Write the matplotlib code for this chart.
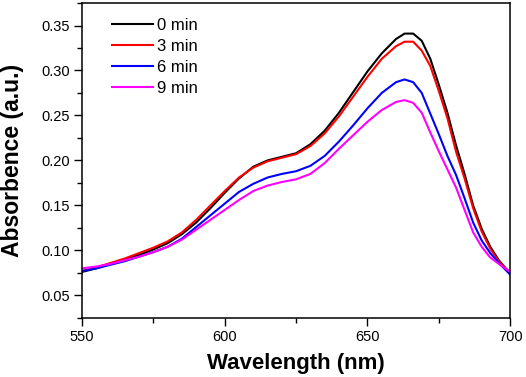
"""
UV-Vis absorbance spectra at different irradiation times (0-9 min)
"""

import matplotlib
matplotlib.use("Agg")
import matplotlib.pyplot as plt
from matplotlib.ticker import MultipleLocator, FormatStrFormatter

# ── data ─────────────────────────────────────────────────────────────────────
wavelength = [550, 555, 560, 565, 570, 575, 580, 585, 590, 595,
              600, 605, 610, 615, 620, 625, 630, 635, 640, 645,
              650, 655, 660, 663, 666, 669, 672, 675, 678, 681,
              684, 687, 690, 693, 696, 700]

abs_0min = [0.076, 0.080, 0.085, 0.090, 0.095, 0.101, 0.108, 0.118, 0.131, 0.147,
            0.164, 0.180, 0.193, 0.200, 0.204, 0.208, 0.218, 0.233, 0.253, 0.276,
            0.299, 0.319, 0.335, 0.341, 0.341, 0.333, 0.313, 0.284, 0.253, 0.217,
            0.185, 0.150, 0.124, 0.104, 0.089, 0.074]

abs_3min = [0.077, 0.081, 0.086, 0.091, 0.097, 0.103, 0.110, 0.120, 0.134, 0.150,
            0.166, 0.181, 0.192, 0.199, 0.203, 0.207, 0.216, 0.230, 0.249, 0.271,
            0.293, 0.313, 0.327, 0.332, 0.332, 0.322, 0.305, 0.277, 0.247, 0.210,
            0.180, 0.147, 0.121, 0.102, 0.088, 0.075]

abs_6min = [0.077, 0.080, 0.084, 0.088, 0.093, 0.098, 0.104, 0.113, 0.126, 0.139,
            0.152, 0.165, 0.174, 0.181, 0.185, 0.188, 0.194, 0.205, 0.221, 0.239,
            0.258, 0.275, 0.287, 0.290, 0.287, 0.275, 0.252, 0.229, 0.205, 0.184,
            0.158, 0.131, 0.111, 0.097, 0.086, 0.073]

abs_9min = [0.080, 0.082, 0.085, 0.089, 0.093, 0.098, 0.104, 0.112, 0.123, 0.134,
            0.145, 0.156, 0.166, 0.172, 0.176, 0.179, 0.185, 0.197, 0.213, 0.228,
            0.243, 0.256, 0.265, 0.267, 0.264, 0.253, 0.231, 0.210, 0.190, 0.170,
            0.145, 0.120, 0.104, 0.092, 0.085, 0.076]

labels = ["0 min", "3 min", "6 min", "9 min"]
colors = ["#000000", "#ff0000", "#0000ff", "#ff00ff"]

plt.rcParams["font.family"] = ["Liberation Sans", "DejaVu Sans"]

fig = plt.figure(figsize=(5.26, 3.77), dpi=100)
ax = fig.add_axes([0.156, 0.157, 0.814, 0.835])

for series, lab, col in zip([abs_0min, abs_3min, abs_6min, abs_9min], labels, colors):
    ax.plot(wavelength, series, color=col, linewidth=1.5, label=lab)

ax.set_xlim(550, 700)
ax.set_ylim(0.025, 0.375)
ax.xaxis.set_major_locator(MultipleLocator(50))
ax.xaxis.set_minor_locator(MultipleLocator(25))
ax.yaxis.set_major_locator(MultipleLocator(0.05))
ax.yaxis.set_minor_locator(MultipleLocator(0.025))
ax.yaxis.set_major_formatter(FormatStrFormatter("%.2f"))

# 바깥쪽 눈금, 위/오른쪽 눈금 없음
ax.tick_params(which="both", direction="out", top=False, right=False, labelsize=10.5)
ax.tick_params(which="major", length=5.5, width=1)
ax.tick_params(which="minor", length=3.5, width=1)
for sp in ax.spines.values():
    sp.set_linewidth(1.1)

ax.set_xlabel("Wavelength (nm)", fontsize=16, fontweight="bold", labelpad=6)
ax.set_ylabel("Absorbence (a.u.)", fontsize=16.5, fontweight="bold", labelpad=12)

ax.legend(loc="upper left", frameon=False, fontsize=12, handlelength=2.5,
          handletextpad=0.2, labelspacing=0.36, borderaxespad=0.4,
          bbox_to_anchor=(0.038, 0.994))

fig.savefig("out.png", dpi=100)
